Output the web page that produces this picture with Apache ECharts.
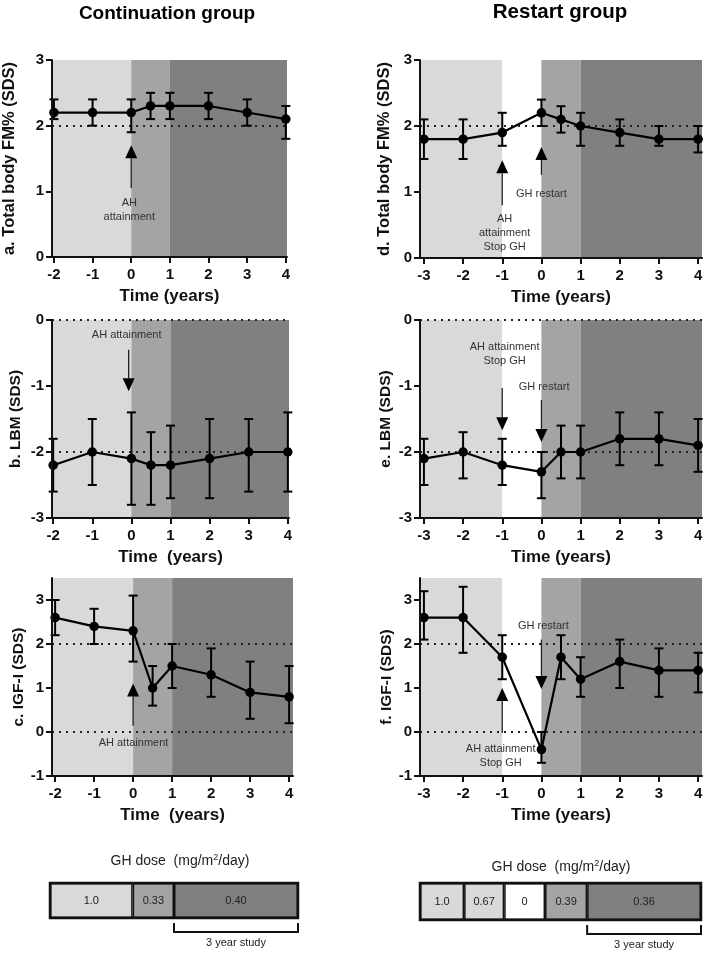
<!DOCTYPE html>
<html><head><meta charset="utf-8">
<script src="https://cdn.jsdelivr.net/npm/echarts@6/dist/echarts.min.js"></script>
<style>html,body{margin:0;padding:0;background:#fff}#c{width:709px;height:954px}</style>
</head><body><div id="c"></div>
<script>
// ---------------- data ----------------
const tCont = [-2, -1, 0, 0.5, 1, 2, 3, 4];
const tRest = [-3, -2, -1, 0, 0.5, 1, 2, 3, 4];
const xTicksCont = [-2, -1, 0, 1, 2, 3, 4];
const xTicksRest = [-3, -2, -1, 0, 1, 2, 3, 4];

const fmContMean = [2.2, 2.2, 2.2, 2.3, 2.3, 2.3, 2.2, 2.1];
const fmContLow  = [2.1, 2.0, 1.9, 2.1, 2.1, 2.1, 2.0, 1.8];
const fmContHigh = [2.4, 2.4, 2.4, 2.5, 2.5, 2.5, 2.4, 2.3];
const lbmContMean = [-2.2, -2.0, -2.1, -2.2, -2.2, -2.1, -2.0, -2.0];
const lbmContLow  = [-2.6, -2.5, -2.8, -2.8, -2.7, -2.7, -2.6, -2.6];
const lbmContHigh = [-1.8, -1.5, -1.4, -1.7, -1.6, -1.5, -1.5, -1.4];
const igfContMean = [2.6, 2.4, 2.3, 1.0, 1.5, 1.3, 0.9, 0.8];
const igfContLow  = [2.2, 2.0, 1.6, 0.6, 1.0, 0.8, 0.3, 0.2];
const igfContHigh = [3.0, 2.8, 3.1, 1.5, 2.0, 1.9, 1.6, 1.5];

const fmRestMean = [1.8, 1.8, 1.9, 2.2, 2.1, 2.0, 1.9, 1.8, 1.8];
const fmRestLow  = [1.5, 1.5, 1.7, 2.0, 1.9, 1.7, 1.7, 1.7, 1.6];
const fmRestHigh = [2.1, 2.1, 2.2, 2.4, 2.3, 2.2, 2.1, 2.0, 2.0];
const lbmRestMean = [-2.1, -2.0, -2.2, -2.3, -2.0, -2.0, -1.8, -1.8, -1.9];
const lbmRestLow  = [-2.5, -2.4, -2.5, -2.7, -2.4, -2.4, -2.2, -2.2, -2.3];
const lbmRestHigh = [-1.8, -1.7, -1.8, -2.0, -1.6, -1.6, -1.4, -1.4, -1.5];
const igfRestMean = [2.6, 2.6, 1.7, -0.4, 1.7, 1.2, 1.6, 1.4, 1.4];
const igfRestLow  = [2.1, 1.8, 1.2, -0.7, 1.2, 0.8, 1.0, 0.8, 0.9];
const igfRestHigh = [3.2, 3.3, 2.2, 0.0, 2.2, 1.7, 2.1, 1.9, 1.8];

// arrows: [x, yStart, yTip]
const arrowsA = [[0, 1.05, 1.70]];
const arrowsB = [[-0.07, -0.45, -1.08]];
const arrowsC = [[0, 0.14, 1.10]];
const arrowsD = [[-1, 0.80, 1.48], [0, 1.26, 1.68]];
const arrowsE = [[-1, -1.03, -1.67], [0, -1.21, -1.85]];
const arrowsF = [[-1, -0.02, 1.00], [0, 2.10, 0.98]];
// notes: [x, y, text]
const notesA = [[-0.05, 0.72, 'AH\nattainment']];
const notesB = [[-0.12, -0.23, 'AH attainment']];
const notesC = [[0.01, -0.25, 'AH attainment']];
const notesD = [[-0.94, 0.38, 'AH\nattainment\nStop GH'], [0.0, 0.97, 'GH restart']];
const notesE = [[-0.94, -0.51, 'AH attainment\nStop GH'], [0.07, -1.02, 'GH restart']];
const notesF = [[-1.04, -0.55, 'AH attainment\nStop GH'], [0.05, 2.40, 'GH restart']];

// GH dose boxes
const doseContLabels = ['1.0', '0.33', '0.40'];
const doseContYears = [2, 1, 3];
const doseRestLabels = ['1.0', '0.67', '0', '0.39', '0.36'];
const doseRestYears = [1.1, 1.0, 1.02, 1.05, 2.84];

// ---------------- styles ----------------
const F = "'Liberation Sans', Arial, Helvetica, sans-serif";
const C_LIGHT = '#d9d9d9', C_MID = '#a4a4a6', C_DARK = '#808080', C_WHITE = '#ffffff';
const bandsCont = [[null, 0, C_LIGHT], [0, 1, C_MID], [1, null, C_DARK]];
const bandsRest = [[null, -1, C_LIGHT], [-1, 0, C_WHITE], [0, 1, C_MID], [1, null, C_DARK]];
const doseContColors = [C_LIGHT, C_MID, C_DARK];
const doseRestColors = [C_LIGHT, C_LIGHT, C_WHITE, C_MID, C_DARK];

const panels = [
  {box:{left:52, top:60, width:235, height:197}, xMin:-2.05, xMax:4.03, xTicks:xTicksCont, yMin:0, yMax:3, yTicks:[0,1,2,3],
   xName:'Time (years)', yName:'a. Total body FM% (SDS)', yNameSize:16.5, yGap:34, t:tCont, mean:fmContMean, low:fmContLow, high:fmContHigh,
   refs:[2], bands:bandsCont, arrows:arrowsA, notes:notesA},
  {box:{left:52, top:320, width:237, height:198}, xMin:-2.03, xMax:4.03, xTicks:xTicksCont, yMin:-3, yMax:0, yTicks:[-3,-2,-1,0],
   xName:'Time  (years)', yName:'b. LBM (SDS)', yNameSize:15.5, yGap:28, t:tCont, mean:lbmContMean, low:lbmContLow, high:lbmContHigh,
   refs:[0,-2], bands:bandsCont, arrows:arrowsB, notes:notesB},
  {box:{left:52, top:578, width:241, height:198}, xMin:-2.08, xMax:4.1, xTicks:xTicksCont, yMin:-1, yMax:3.5, yTicks:[-1,0,1,2,3],
   xName:'Time  (years)', yName:'c. IGF-I (SDS)', yNameSize:15.5, yGap:21, t:tCont, mean:igfContMean, low:igfContLow, high:igfContHigh,
   refs:[2,0], bands:bandsCont, arrows:arrowsC, notes:notesC},
  {box:{left:420, top:60, width:282, height:198}, xMin:-3.1, xMax:4.1, xTicks:xTicksRest, yMin:0, yMax:3, yTicks:[0,1,2,3],
   xName:'Time (years)', yName:'d. Total body FM% (SDS)', yNameSize:16.5, yGap:27, t:tRest, mean:fmRestMean, low:fmRestLow, high:fmRestHigh,
   refs:[2], bands:bandsRest, arrows:arrowsD, notes:notesD},
  {box:{left:420, top:320, width:282, height:198}, xMin:-3.1, xMax:4.1, xTicks:xTicksRest, yMin:-3, yMax:0, yTicks:[-3,-2,-1,0],
   xName:'Time (years)', yName:'e. LBM (SDS)', yNameSize:15.5, yGap:26, t:tRest, mean:lbmRestMean, low:lbmRestLow, high:lbmRestHigh,
   refs:[0,-2], bands:bandsRest, arrows:arrowsE, notes:notesE},
  {box:{left:420, top:578, width:282, height:198}, xMin:-3.1, xMax:4.1, xTicks:xTicksRest, yMin:-1, yMax:3.5, yTicks:[-1,0,1,2,3],
   xName:'Time (years)', yName:'f. IGF-I (SDS)', yNameSize:15.5, yGap:25, t:tRest, mean:igfRestMean, low:igfRestLow, high:igfRestHigh,
   refs:[2,0], bands:bandsRest, arrows:arrowsF, notes:notesF}
];

const option = {
  animation: false,
  backgroundColor: '#fff',
  title: [
    {text:'Continuation group', left:167, top:4, padding:0, textAlign:'center', textStyle:{fontFamily:F, fontSize:19, fontWeight:'bold', color:'#000'}},
    {text:'Restart group', left:560, top:2, padding:0, textAlign:'center', textStyle:{fontFamily:F, fontSize:20.5, fontWeight:'bold', color:'#000'}},
    {text:'GH dose  (mg/m{s|2}/day)', left:180, top:853, padding:0, textAlign:'center',
     textStyle:{fontFamily:F, fontSize:14, fontWeight:'normal', color:'#222', lineHeight:16,
       rich:{s:{fontFamily:F, fontSize:9, color:'#222', verticalAlign:'top', lineHeight:16}}}},
    {text:'GH dose  (mg/m{s|2}/day)', left:561, top:859, padding:0, textAlign:'center',
     textStyle:{fontFamily:F, fontSize:14, fontWeight:'normal', color:'#222', lineHeight:16,
       rich:{s:{fontFamily:F, fontSize:9, color:'#222', verticalAlign:'top', lineHeight:16}}}}
  ],
  grid: [], xAxis: [], yAxis: [], series: []
};

function errRender(params, api) {
  const x = api.value(0), lo = api.value(1), hi = api.value(2);
  const p1 = api.coord([x, lo]), p2 = api.coord([x, hi]);
  const w = 4.5;
  const st = {stroke:'#000', lineWidth:2, fill:null};
  return {type:'group', children:[
    {type:'line', shape:{x1:p1[0], y1:p1[1], x2:p2[0], y2:p2[1]}, style:st},
    {type:'line', shape:{x1:p1[0]-w, y1:p1[1], x2:p1[0]+w, y2:p1[1]}, style:st},
    {type:'line', shape:{x1:p2[0]-w, y1:p2[1], x2:p2[0]+w, y2:p2[1]}, style:st}
  ]};
}
function arrowRender(params, api) {
  const x = api.value(0);
  const p0 = api.coord([x, api.value(1)]), pt = api.coord([x, api.value(2)]);
  const dir = pt[1] < p0[1] ? -1 : 1;
  const hl = 13, hw = 6;
  const base = pt[1] - dir * hl;
  return {type:'group', children:[
    {type:'line', shape:{x1:p0[0], y1:p0[1], x2:pt[0], y2:base}, style:{stroke:'#222', lineWidth:1.3}},
    {type:'polygon', shape:{points:[[pt[0], pt[1]], [pt[0]-hw, base], [pt[0]+hw, base]]}, style:{fill:'#000'}}
  ]};
}
function noteRenderFor(notes) {
  return function (params, api) {
    const n = notes[params.dataIndex];
    const p = api.coord([n[0], n[1]]);
    return {type:'text', x:p[0], y:p[1], style:{text:n[2], fill:'#333', fontFamily:F, fontSize:11,
      align:'center', verticalAlign:'middle', lineHeight:14}};
  };
}

panels.forEach((p, i) => {
  option.grid.push(Object.assign({}, p.box));
  option.xAxis.push({
    type:'value', gridIndex:i, min:p.xMin, max:p.xMax, z:10,
    name:p.xName, nameLocation:'middle', nameGap:31,
    nameTextStyle:{fontFamily:F, fontWeight:'bold', fontSize:17, color:'#111'},
    axisLine:{show:true, onZero:false, lineStyle:{color:'#111', width:2}},
    axisTick:{show:true, length:6, lineStyle:{color:'#111', width:2}, customValues:p.xTicks},
    axisLabel:{customValues:p.xTicks, fontFamily:F, fontWeight:'bold', fontSize:15, color:'#111', margin:10},
    splitLine:{show:false}
  });
  option.yAxis.push({
    type:'value', gridIndex:i, min:p.yMin, max:p.yMax, z:10,
    name:p.yName, nameLocation:'middle', nameGap:p.yGap, nameRotate:90,
    nameTextStyle:{fontFamily:F, fontWeight:'bold', fontSize:p.yNameSize, color:'#111'},
    axisLine:{show:true, onZero:false, lineStyle:{color:'#111', width:2}},
    axisTick:{show:true, length:6, lineStyle:{color:'#111', width:2}, customValues:p.yTicks},
    axisLabel:{customValues:p.yTicks, fontFamily:F, fontWeight:'bold', fontSize:15, color:'#111', margin:8},
    splitLine:{show:false}
  });
  const xs = {xAxisIndex:i, yAxisIndex:i};
  option.series.push(Object.assign({
    type:'line', data:p.t.map((t, k) => [t, p.mean[k]]), z:4,
    symbol:'circle', symbolSize:9.5, itemStyle:{color:'#000'}, lineStyle:{color:'#000', width:2.2},
    silent:true,
    markArea:{silent:true, z:1, data:p.bands.map(b => [
      {xAxis: b[0] == null ? p.xMin : b[0], itemStyle:{color:b[2], opacity:1}},
      {xAxis: b[1] == null ? p.xMax : b[1]}
    ])},
    markLine:{silent:true, z:2, symbol:['none','none'], label:{show:false},
      lineStyle:{color:'#222', width:2, type:[2,5]}, data:p.refs.map(v => ({yAxis:v}))}
  }, xs));
  option.series.push(Object.assign({
    type:'custom', renderItem:errRender, z:3, clip:false, silent:true,
    encode:{x:0, y:[1,2]},
    data:p.t.map((t, k) => [t, p.low[k], p.high[k]])
  }, xs));
  option.series.push(Object.assign({
    type:'custom', renderItem:arrowRender, z:5, clip:false, silent:true,
    encode:{x:0, y:[1,2]}, data:p.arrows
  }, xs));
  option.series.push(Object.assign({
    type:'custom', renderItem:noteRenderFor(p.notes), z:5, clip:false, silent:true,
    encode:{x:0, y:1}, data:p.notes.map(n => [n[0], n[1]])
  }, xs));
});

// dose boxes
const doseBoxes = [
  {box:{left:50, top:883, width:248, height:35}, years:doseContYears, labels:doseContLabels, colors:doseContColors},
  {box:{left:420, top:883, width:281, height:37}, years:doseRestYears, labels:doseRestLabels, colors:doseRestColors}
];
function bracketRender(params, api) {
  const a = api.coord([api.value(0), api.value(2)]);
  const b = api.coord([api.value(1), api.value(2)]);
  const h = api.size([0, 1])[1];
  const y0 = a[1] + h / 2 + 5, y1 = y0 + 9;
  return {type:'group', children:[
    {type:'polyline', shape:{points:[[a[0], y0], [a[0], y1], [b[0], y1], [b[0], y0]]},
      style:{stroke:'#111', lineWidth:2, fill:null}},
    {type:'text', x:(a[0]+b[0])/2, y:y1 + 11, style:{text:'3 year study', fill:'#222', fontFamily:F, fontSize:11,
      align:'center', verticalAlign:'middle'}}
  ]};
}
function outlineRender(params, api) {
  const a = api.coord([api.value(0), api.value(2)]);
  const b = api.coord([api.value(1), api.value(2)]);
  const h = api.size([0, 1])[1];
  return {type:'rect', shape:{x:a[0], y:a[1]-h/2, width:b[0]-a[0], height:h},
    style:{stroke:'#111', lineWidth:2.5, fill:null}};
}
doseBoxes.forEach((d, j) => {
  const gi = panels.length + j;
  const total = d.years.reduce((s, v) => s + v, 0);
  const studyStart = total - d.years[d.years.length - 1];
  option.grid.push(Object.assign({}, d.box));
  option.xAxis.push({type:'value', gridIndex:gi, min:0, max:total, show:false});
  option.yAxis.push({type:'category', gridIndex:gi, data:['dose'], show:false});
  d.years.forEach((v, k) => {
    option.series.push({
      type:'bar', xAxisIndex:gi, yAxisIndex:gi, stack:'dose' + j, barWidth:'100%', silent:true,
      data:[v], itemStyle:{color:d.colors[k], borderColor:'#111', borderWidth:1.5},
      label:{show:true, position:'inside', formatter:d.labels[k], fontFamily:F, fontSize:11, color:'#222'}
    });
  });
  option.series.push({type:'custom', xAxisIndex:gi, yAxisIndex:gi, renderItem:outlineRender, z:5, clip:false, silent:true,
    encode:{x:[0,1], y:2}, data:[[0, total, 0]]});
  option.series.push({type:'custom', xAxisIndex:gi, yAxisIndex:gi, renderItem:bracketRender, z:5, clip:false, silent:true,
    encode:{x:[0,1], y:2}, data:[[studyStart, total, 0]]});
});

const chart = echarts.init(document.getElementById('c'), null, {renderer:'canvas'});
chart.setOption(option);
</script>
</body></html>
